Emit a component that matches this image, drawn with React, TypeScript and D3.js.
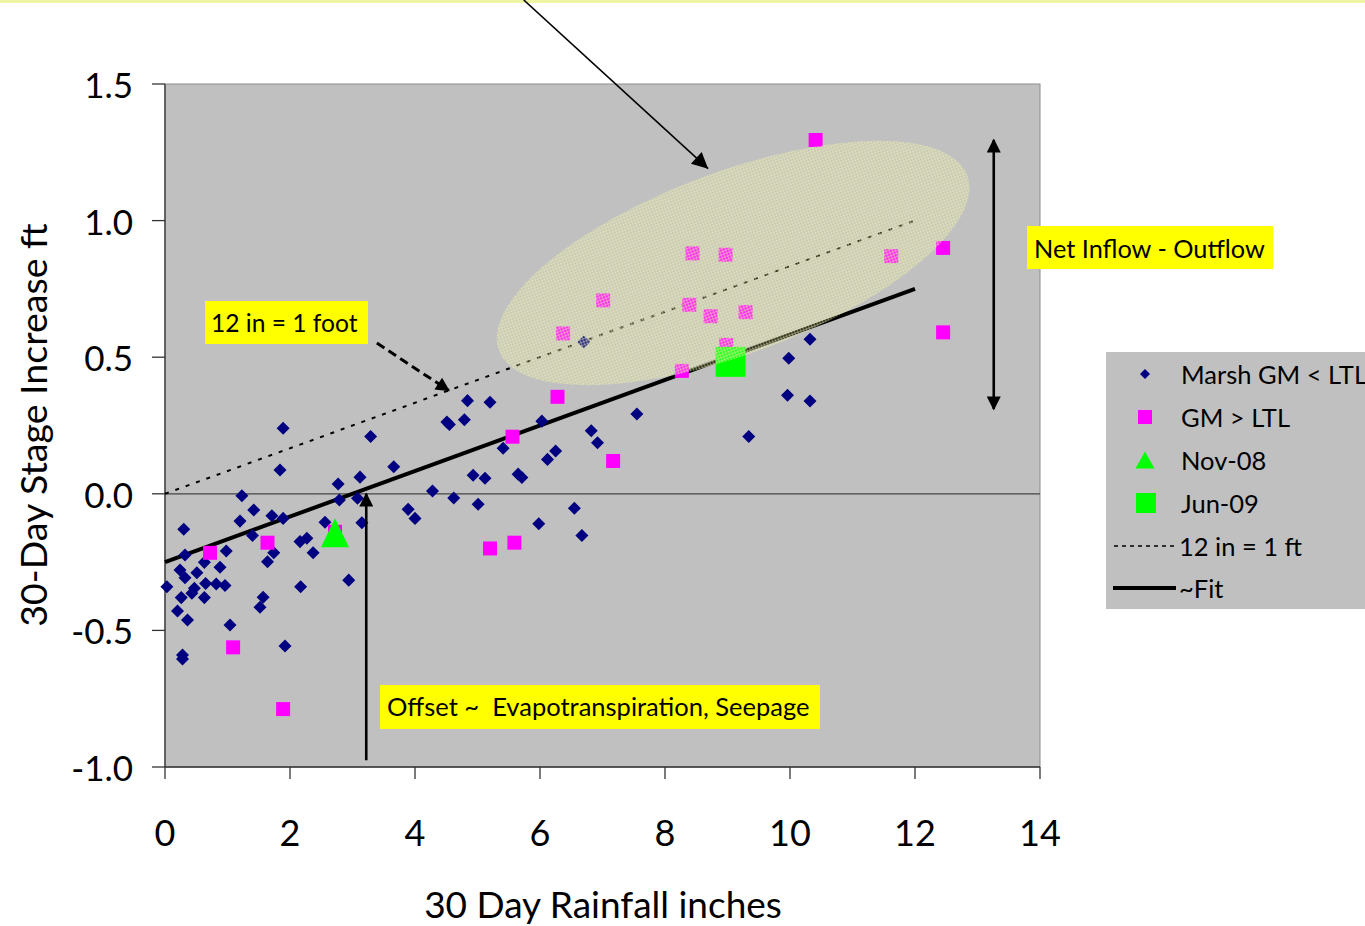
import * as d3 from "d3";

// Marsh GM < LTL (blue diamonds)
const blueX = [1.89, 3.29, 1.84, 2.77, 3.12, 3.66, 1.23, 1.42, 2.79, 3.08, 1.71, 1.89, 1.2, 0.3, 2.56, 3.15, 1.4, 2.16, 2.27, 0.98, 0.32, 1.74, 2.37, 1.64, 0.63, 0.88, 0.24, 0.51, 0.32, 0.03, 0.47, 0.65, 0.82, 0.96, 0.43, 0.26, 0.63, 2.17, 2.94, 1.57, 1.52, 0.2, 0.36, 1.04, 1.92, 0.28, 0.28, 4.84, 5.2, 4.51, 4.55, 4.79, 6.03, 7.55, 6.82, 6.92, 5.41, 6.25, 6.12, 4.93, 5.12, 5.65, 5.71, 4.28, 4.62, 5.01, 3.89, 4.0, 5.98, 6.55, 6.67, 6.7, 10.32, 9.98, 9.96, 10.32, 9.34];
const blueY = [0.24, 0.21, 0.087, 0.036, 0.061, 0.099, -0.007, -0.059, -0.023, -0.016, -0.08, -0.09, -0.1, -0.13, -0.104, -0.106, -0.153, -0.175, -0.163, -0.209, -0.224, -0.216, -0.216, -0.249, -0.251, -0.269, -0.279, -0.289, -0.307, -0.34, -0.346, -0.328, -0.33, -0.336, -0.364, -0.38, -0.38, -0.34, -0.316, -0.379, -0.415, -0.429, -0.462, -0.48, -0.557, -0.59, -0.605, 0.341, 0.335, 0.263, 0.254, 0.271, 0.266, 0.292, 0.231, 0.187, 0.167, 0.157, 0.126, 0.068, 0.057, 0.072, 0.06, 0.01, -0.015, -0.038, -0.057, -0.09, -0.11, -0.053, -0.153, 0.556, 0.566, 0.496, 0.361, 0.34, 0.21];

// GM > LTL (pink squares)
const pinkX = [0.72, 1.64, 1.09, 2.72, 1.89, 6.28, 5.56, 7.17, 5.2, 5.59, 10.41, 8.44, 8.97, 11.62, 12.45, 7.01, 6.37, 8.39, 8.73, 9.29, 12.45, 8.27, 8.98];
const pinkY = [-0.216, -0.179, -0.562, -0.139, -0.788, 0.355, 0.209, 0.12, -0.2, -0.179, 1.295, 0.88, 0.875, 0.87, 0.9, 0.708, 0.587, 0.692, 0.65, 0.665, 0.591, 0.45, 0.545];

const nov08 = [2.72, -0.143];
const jun09 = [9.05, 0.483];

const ruleX = [0, 12];
const ruleY = [0, 1.0];
const fitX = [0, 12];
const fitY = [-0.25, 0.75];

const xTicks = [0, 2, 4, 6, 8, 10, 12, 14];
const yTicks = [-1.0, -0.5, 0.0, 0.5, 1.0, 1.5];

const legendLabels = ["Marsh GM < LTL", "GM > LTL", "Nov-08", "Jun-09", "12 in = 1 ft", "~Fit"];

const FONT = "Lato, 'Open Sans', sans-serif";
const W = 1365;
const H = 926;
const left = 165, right = 1040, top = 84, bottom = 767;

export default function App() {
  const x = d3.scaleLinear().domain([0, 14]).range([left, right]);
  const y = d3.scaleLinear().domain([-1, 1.5]).range([bottom, top]);

  const diamond = d3.symbol(d3.symbolSquare, 85)() as string;
  const diamondSmall = d3.symbol(d3.symbolSquare, 50)() as string;
  const pinkSq = d3.symbol(d3.symbolSquare, 196)() as string;
  const tri = (w: number, h: number) => `M0,${-h / 2}L${w / 2},${h / 2}L${-w / 2},${h / 2}Z`;

  const rulePts = ruleX.map((v, i) => [x(v), y(ruleY[i])] as [number, number]);
  const fitPts = fitX.map((v, i) => [x(v), y(fitY[i])] as [number, number]);
  const path2 = d3.line();

  // ellipse highlighting the GM > LTL cluster
  const ell = { cx: x(9.09), cy: y(0.845) };

  const legendRows = [374, 417, 460, 503, 546, 588];

  return (
    <svg
      width={W}
      height={H}
      style={{ position: "absolute", left: 0, top: 0, background: "#fff" }}
      fontFamily={FONT}
    >
      <defs>
        <marker id="ah" viewBox="0 0 10 10" refX="10" refY="5" markerWidth="20" markerHeight="16" markerUnits="userSpaceOnUse" orient="auto">
          <path d="M0,0L10,5L0,10Z" fill="#000" />
        </marker>
        <marker id="ahs" viewBox="0 0 10 10" refX="9" refY="5" markerWidth="16" markerHeight="14" markerUnits="userSpaceOnUse" orient="auto-start-reverse">
          <path d="M0,0L10,5L0,10Z" fill="#000" />
        </marker>
        <pattern id="grid" width="3" height="3" patternUnits="userSpaceOnUse">
          <rect width="3" height="3" fill="#e8eca0" fillOpacity="0.22" />
          <path d="M0,0.5H3M0.5,0V3" stroke="#eef0b4" strokeOpacity="0.4" strokeWidth="1" />
        </pattern>
      </defs>

      <rect x={0} y={0} width={W} height={3} fill="#f0f5a2" />

      {/* plot area */}
      <rect x={left} y={top} width={right - left} height={bottom - top} fill="#c0c0c0" stroke="#8c8c8c" strokeWidth={1} />
      <line x1={left} x2={right} y1={y(0)} y2={y(0)} stroke="#444" strokeWidth={1.2} />

      {/* axes */}
      <line x1={left} x2={left} y1={top} y2={bottom} stroke="#333" strokeWidth={1.3} />
      <line x1={left} x2={right} y1={bottom} y2={bottom} stroke="#333" strokeWidth={1.3} />
      {yTicks.map((t) => (
        <g key={"y" + t}>
          <line x1={left - 13} x2={left} y1={y(t)} y2={y(t)} stroke="#333" strokeWidth={1.3} />
          <text x={133} y={y(t)} textAnchor="end" dominantBaseline="central" fontSize={35} fill="#000">
            {t.toFixed(1)}
          </text>
        </g>
      ))}
      {xTicks.map((t) => (
        <g key={"x" + t}>
          <line x1={x(t)} x2={x(t)} y1={bottom} y2={bottom + 12} stroke="#333" strokeWidth={1.3} />
          <text x={x(t)} y={832} textAnchor="middle" dominantBaseline="central" fontSize={36} fill="#000">
            {t}
          </text>
        </g>
      ))}
      <text x={603} y={903} textAnchor="middle" dominantBaseline="central" fontSize={37} fill="#000">
        30 Day Rainfall inches
      </text>
      <text
        transform={`translate(32,425) rotate(-90)`}
        textAnchor="middle"
        dominantBaseline="central"
        fontSize={37.5}
        fill="#000"
      >
        30-Day Stage Increase ft
      </text>

      {/* lines */}
      <path d={path2(rulePts) as string} stroke="#000" strokeWidth={2} strokeDasharray="4,7" fill="none" />
      <path d={path2(fitPts) as string} stroke="#000" strokeWidth={4} fill="none" />

      {/* series */}
      {blueX.map((v, i) => (
        <path key={"b" + i} d={diamond} transform={`translate(${x(v)},${y(blueY[i])}) rotate(45)`} fill="#000080" />
      ))}
      {pinkX.map((v, i) => (
        <path key={"p" + i} d={pinkSq} transform={`translate(${x(v)},${y(pinkY[i])})`} fill="#ff00ff" />
      ))}
      <path d={tri(28, 29)} transform={`translate(${x(nov08[0])},${y(nov08[1])})`} fill="#00ff00" />
      <rect x={x(jun09[0]) - 15} y={y(jun09[1]) - 15} width={30} height={30} fill="#00ff00" />

      {/* highlight ellipse */}
      <ellipse
        cx={0}
        cy={0}
        rx={250}
        ry={91}
        transform={`translate(${ell.cx},${ell.cy}) rotate(-20.5)`}
        fill="url(#grid)"
      />

      {/* annotations */}
      <line x1={x(5.74)} y1={0} x2={x(8.69)} y2={y(1.19)} stroke="#000" strokeWidth={1.6} markerEnd="url(#ah)" />
      <line x1={x(13.26)} x2={x(13.26)} y1={y(1.295)} y2={y(0.31)} stroke="#000" strokeWidth={2.6} markerStart="url(#ahs)" markerEnd="url(#ahs)" />
      <line x1={x(3.22)} x2={x(3.22)} y1={y(-0.975)} y2={y(0.0)} stroke="#000" strokeWidth={2.6} markerEnd="url(#ahs)" />
      <line x1={x(3.39)} y1={y(0.552)} x2={x(4.54)} y2={y(0.378)} stroke="#000" strokeWidth={3} strokeDasharray="9,5" markerEnd="url(#ahs)" />

      <rect x={205} y={301} width={163} height={43} fill="#ffff00" />
      <text x={211} y={322.5} dominantBaseline="central" fontSize={24.6} fill="#000">12 in = 1 foot</text>

      <rect x={1027} y={226} width={246} height={43} fill="#ffff00" />
      <text x={1034} y={247.5} dominantBaseline="central" fontSize={25.3} fill="#000">Net Inflow - Outflow</text>

      <rect x={380} y={685} width={440} height={44} fill="#ffff00" />
      <text x={387} y={706} dominantBaseline="central" fontSize={25.5} fill="#000" xmlSpace="preserve">Offset ~  Evapotranspiration, Seepage</text>

      {/* legend */}
      <rect x={1106} y={352} width={280} height={257} fill="#c0c0c0" />
      <path d={diamondSmall} transform={`translate(1145,${legendRows[0]}) rotate(45)`} fill="#000080" />
      <rect x={1138} y={legendRows[1] - 7} width={14} height={14} fill="#ff00ff" />
      <path d={tri(19, 17)} transform={`translate(1145,${legendRows[2]})`} fill="#00ff00" />
      <rect x={1136} y={legendRows[3] - 10} width={20} height={20} fill="#00ff00" />
      <line x1={1114} x2={1176} y1={legendRows[4]} y2={legendRows[4]} stroke="#000" strokeWidth={1.3} strokeDasharray="4,4" />
      <line x1={1113} x2={1176} y1={legendRows[5]} y2={legendRows[5]} stroke="#000" strokeWidth={4} />
      {legendLabels.map((l, i) => (
        <text key={l} x={i >= 4 ? 1179 : 1181} y={legendRows[i]} dominantBaseline="central" fontSize={25.5} fill="#000">
          {l}
        </text>
      ))}
    </svg>
  );
}
